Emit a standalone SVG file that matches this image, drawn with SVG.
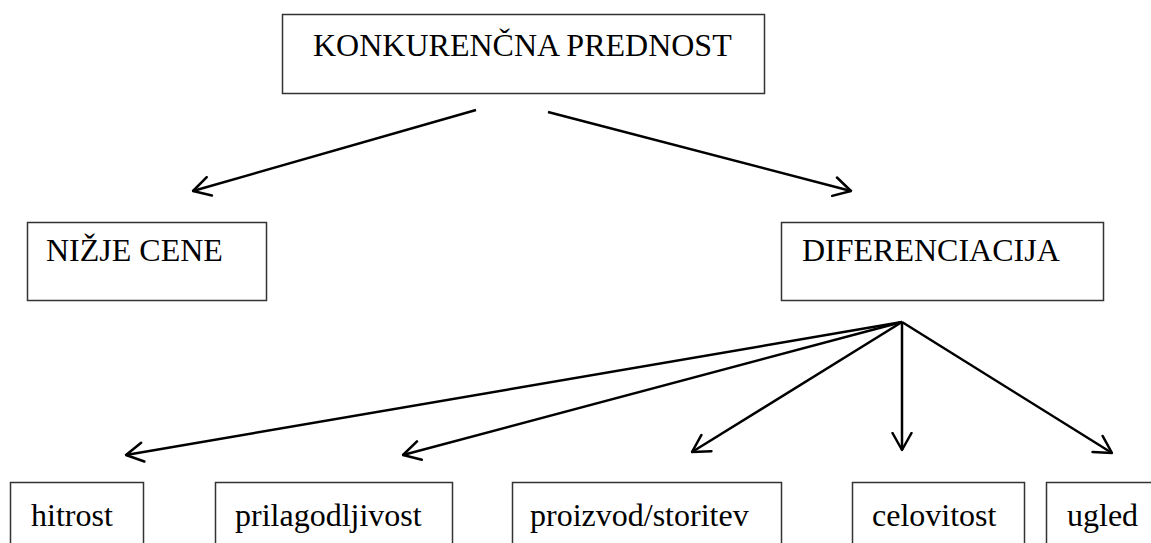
<svg xmlns="http://www.w3.org/2000/svg" width="1151" height="543" viewBox="0 0 1151 543">
  <style>
    .box { fill: #ffffff; stroke: #333333; stroke-width: 1.5; }
    .label { font-family: "Liberation Serif", "Times New Roman", serif; font-size: 32px; fill: #000000; }
    .link { fill: none; stroke: #000000; stroke-width: 2.5; marker-end: url(#arrow); }
  </style>
  <defs>
    <!-- open V arrowhead -->
    <marker id="arrow" viewBox="0 0 20 22" refX="18.5" refY="11" markerWidth="20" markerHeight="22" markerUnits="userSpaceOnUse" orient="auto">
      <path d="M1.5,1.5 L18.5,11 L1.5,20.5" fill="none" stroke="#000000" stroke-width="2.5" stroke-linecap="round" stroke-linejoin="round"/>
    </marker>
  </defs>
  <rect width="1151" height="543" fill="#ffffff"/>

  <g id="konkurencna-prednost">
    <rect class="box" x="282.5" y="14.5" width="482" height="79"/>
    <text class="label" x="313" y="56">KONKURENČNA PREDNOST</text>
  </g>

  <g id="nizje-cene">
    <rect class="box" x="27.5" y="222.5" width="239" height="78"/>
    <text class="label" x="46" y="261">NIŽJE CENE</text>
  </g>

  <g id="diferenciacija">
    <rect class="box" x="781.5" y="222.5" width="322" height="78"/>
    <text class="label" x="802" y="261">DIFERENCIACIJA</text>
  </g>

  <g id="hitrost">
    <rect class="box" x="10.5" y="482.5" width="133" height="80"/>
    <text class="label" x="31" y="526">hitrost</text>
  </g>

  <g id="prilagodljivost">
    <rect class="box" x="215.5" y="482.5" width="237" height="80"/>
    <text class="label" x="235" y="526">prilagodljivost</text>
  </g>

  <g id="proizvod-storitev">
    <rect class="box" x="512.5" y="482.5" width="269" height="80"/>
    <text class="label" x="530" y="526">proizvod/storitev</text>
  </g>

  <g id="celovitost">
    <rect class="box" x="852.5" y="482.5" width="172" height="80"/>
    <text class="label" x="872" y="526">celovitost</text>
  </g>

  <g id="ugled">
    <rect class="box" x="1046.5" y="482.5" width="130" height="80"/>
    <text class="label" x="1067" y="526">ugled</text>
  </g>

  <g id="connectors">
    <line class="link" x1="476" y1="110" x2="193" y2="191"/>
    <line class="link" x1="548" y1="112" x2="851" y2="191"/>
    <line class="link" x1="902" y1="322" x2="126" y2="455"/>
    <line class="link" x1="902" y1="322" x2="403" y2="455"/>
    <line class="link" x1="902" y1="322" x2="692" y2="452"/>
    <line class="link" x1="902" y1="322" x2="902" y2="450"/>
    <line class="link" x1="902" y1="322" x2="1112" y2="453"/>
  </g>
</svg>
